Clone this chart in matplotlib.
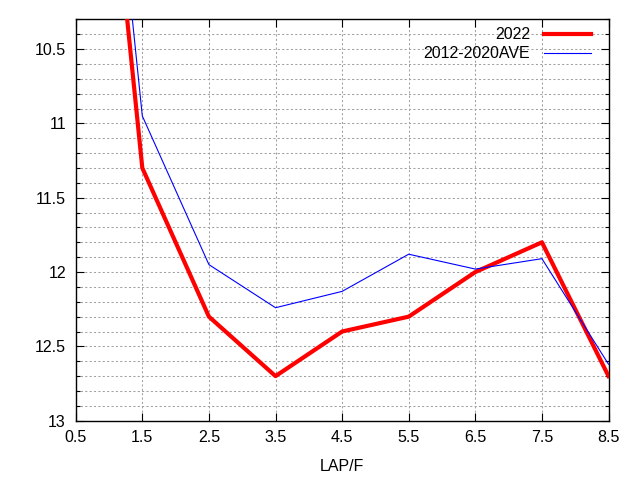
import matplotlib
matplotlib.use("Agg")
import matplotlib.pyplot as plt
from matplotlib.ticker import MultipleLocator, FormatStrFormatter

plt.rcParams['font.family'] = ['Liberation Sans', 'DejaVu Sans']

laps = [0.5, 1.5, 2.5, 3.5, 4.5, 5.5, 6.5, 7.5, 8.5]
y2022 = [6.9, 11.3, 12.3, 12.7, 12.4, 12.3, 12.0, 11.8, 12.7]
yave = [6.6, 10.95, 11.95, 12.24, 12.13, 11.88, 11.98, 11.91, 12.62]
xticks = [0.5, 1.5, 2.5, 3.5, 4.5, 5.5, 6.5, 7.5, 8.5]
yticks = [10.5, 11, 11.5, 12, 12.5, 13]

fig = plt.figure(figsize=(6.4, 4.8), dpi=100)
ax = fig.add_axes([0.1183, 0.1235, 0.8325, 0.8363])

ax.plot(laps, y2022, color='#ff0000', lw=3.0, label='2022', zorder=3)
ax.plot(laps, yave, color='#0000ff', lw=0.8, label='2012-2020AVE', zorder=4)

ax.set_xlim(0.5, 8.5)
ax.set_ylim(13, 10.3)
ax.set_xticks(xticks)
ax.set_xticklabels([f"{v:g}" for v in xticks])
ax.set_yticks(yticks)
ax.yaxis.set_major_formatter(FormatStrFormatter('%g'))
ax.yaxis.set_minor_locator(MultipleLocator(0.1))

ax.tick_params(which='both', direction='in', top=True, right=True,
               labelsize=11.5, color='black', width=0.8)
ax.tick_params(which='major', length=6, pad=7)
ax.tick_params(which='minor', length=3)

gridkw = dict(color='#a0a0a0', lw=0.75, linestyle=(0, (2, 2.2)))
ax.grid(True, which='major', axis='both', **gridkw)
ax.grid(True, which='minor', axis='y', **gridkw)
ax.set_axisbelow(True)

for s in ax.spines.values():
    s.set_linewidth(1.0)

ax.set_xlabel('LAP/F', fontsize=11.5, labelpad=10)

leg = ax.legend(loc='upper right', bbox_to_anchor=(0.989, 1.008), frameon=False,
                markerfirst=False, fontsize=11.5, handlelength=2.95,
                handletextpad=0.9, labelspacing=0.25, borderpad=0.2)

fig.savefig('out.png', dpi=100)
